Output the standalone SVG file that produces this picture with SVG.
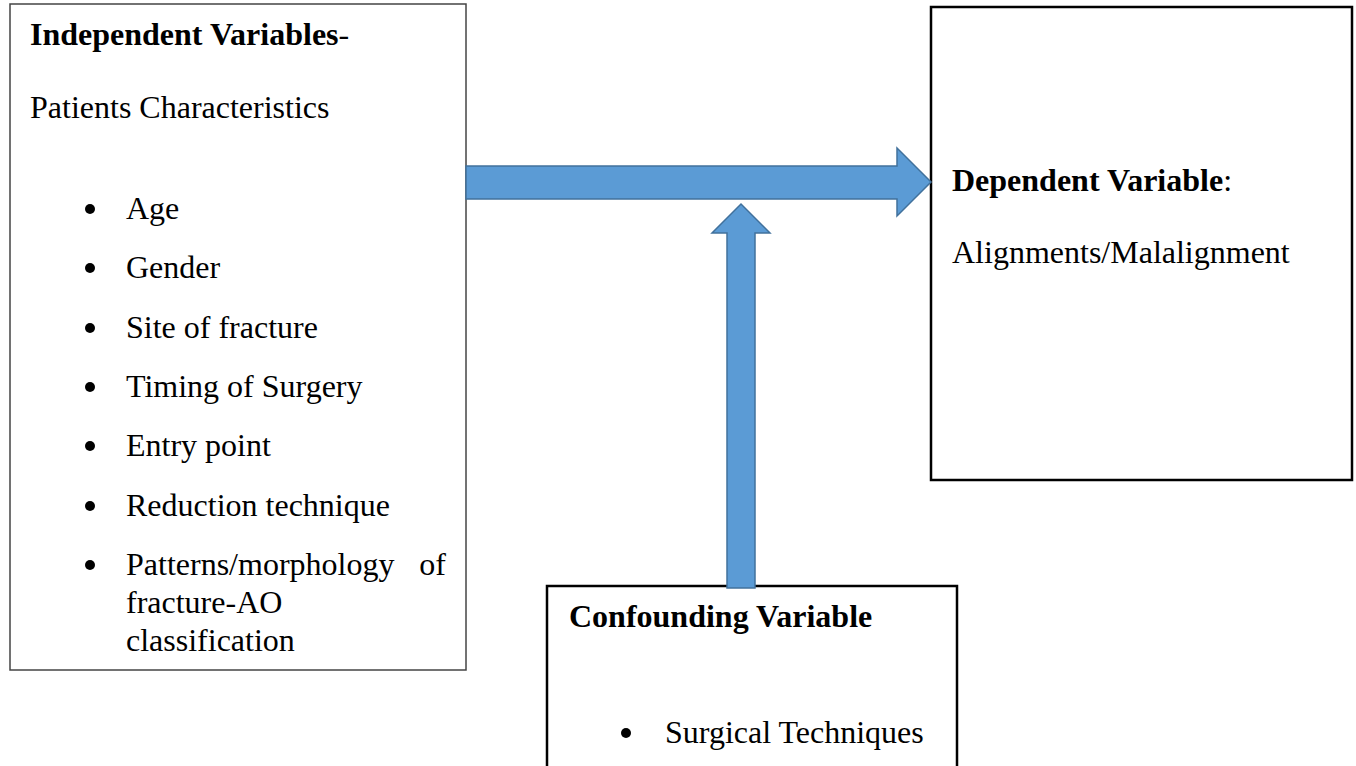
<svg xmlns="http://www.w3.org/2000/svg" width="1356" height="766" viewBox="0 0 1356 766">
<style>
  .t{font-family:"Liberation Serif","Times New Roman",serif;font-size:32px;fill:#000}
  .b{font-weight:bold}
  .box{fill:#fff}
  .arrow{fill:#5B9BD5;stroke:#41719C;stroke-width:1.5}
</style>
<rect width="1356" height="766" fill="#fff"/>
<g id="independent">
  <rect class="box" x="10" y="4" width="456" height="666" stroke="#444" stroke-width="1.5"/>
  <text class="t" x="30" y="45"><tspan class="b">Independent Variables</tspan>-</text>
  <text class="t" x="30" y="118">Patients Characteristics</text>
  <g fill="#000">
    <circle cx="90" cy="209" r="5"/>
    <circle cx="90" cy="268" r="5"/>
    <circle cx="90" cy="328" r="5"/>
    <circle cx="90" cy="387" r="5"/>
    <circle cx="90" cy="446" r="5"/>
    <circle cx="90" cy="506" r="5"/>
    <circle cx="90" cy="565" r="5"/>
  </g>
  <text class="t" x="126" y="219">Age</text>
  <text class="t" x="126" y="278">Gender</text>
  <text class="t" x="126" y="338">Site of fracture</text>
  <text class="t" x="126" y="397">Timing of Surgery</text>
  <text class="t" x="126" y="456">Entry point</text>
  <text class="t" x="126" y="516">Reduction technique</text>
  <text class="t" x="126" y="575">Patterns/morphology</text>
  <text class="t" x="446" y="575" text-anchor="end">of</text>
  <text class="t" x="126" y="613">fracture-AO</text>
  <text class="t" x="126" y="651">classification</text>
</g>
<g id="dependent">
  <rect class="box" x="931" y="7" width="421" height="473" stroke="#000" stroke-width="2.5"/>
  <text class="t" x="952" y="191"><tspan class="b">Dependent Variable</tspan>:</text>
  <text class="t" x="952" y="263">Alignments/Malalignment</text>
</g>
<g id="confounding">
  <rect class="box" x="547" y="586" width="410" height="200" stroke="#000" stroke-width="2.5"/>
  <text class="t b" x="569" y="627">Confounding Variable</text>
  <circle cx="626" cy="733" r="5" fill="#000"/>
  <text class="t" x="665" y="743">Surgical Techniques</text>
</g>
<g id="connectors">
  <polygon class="arrow" points="466,166 897,166 897,148 931,182 897,216 897,199 466,199"/>
  <polygon class="arrow" points="727,588 727,233 712,233 741,204 770,233 755,233 755,588"/>
</g>
</svg>
